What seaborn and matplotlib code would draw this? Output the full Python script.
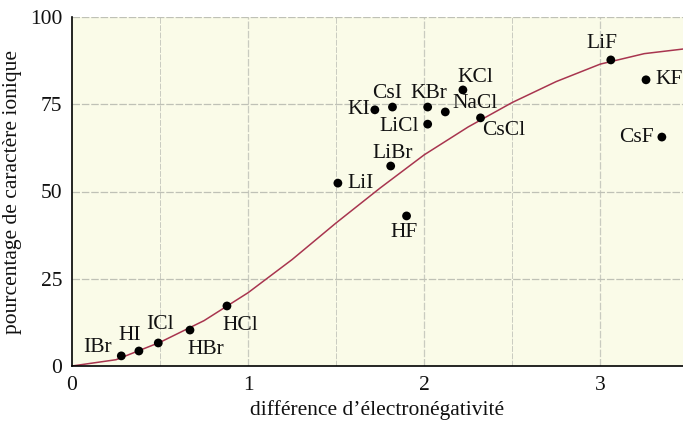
import numpy as np
import pandas as pd
import matplotlib
matplotlib.use("Agg")
import matplotlib.pyplot as plt
import seaborn as sns

# data
composes = ["IBr", "HI", "ICl", "HBr", "HCl", "LiI", "LiBr", "KI", "CsI",
            "KBr", "LiCl", "NaCl", "KCl", "CsCl", "HF", "LiF", "KF", "CsF"]
diff_en = [0.28, 0.38, 0.49, 0.67, 0.88, 1.51, 1.81, 1.72, 1.82,
           2.02, 2.02, 2.12, 2.22, 2.32, 1.90, 3.06, 3.26, 3.35]
pct_ionique = [2.9, 4.3, 6.6, 10.3, 17.2, 52.4, 57.3, 73.4, 74.2,
               74.2, 69.3, 72.8, 79.1, 71.1, 43.0, 87.7, 82.0, 65.6]

courbe_x = [0, 0.25, 0.5, 0.75, 1.0, 1.25, 1.5, 1.75, 2.0, 2.25,
            2.5, 2.75, 3.0, 3.25, 3.5]
courbe_y = [0, 1.8, 6.8, 13.0, 21.0, 30.5, 41.0, 51.0, 60.5, 68.5,
            75.5, 81.5, 86.5, 89.5, 91.0]

x_ticks = [0, 1, 2, 3]
y_ticks = [0, 25, 50, 75, 100]

# label placement: (dx, dy in points, ha)
offsets = {
    "IBr": (-6.5, 6, "right"), "HI": (-6.5, 11, "center"),
    "ICl": (1, 13, "center"), "HBr": (-1.5, -14, "left"),
    "HCl": (-3, -14, "left"), "LiI": (7, 0, "left"),
    "LiBr": (1.5, 9, "center"), "KI": (-3.5, 0, "right"),
    "CsI": (-3.5, 10, "center"), "KBr": (1, 10, "center"),
    "LiCl": (-6.5, -2, "right"), "NaCl": (5, 6, "left"),
    "KCl": (9, 9, "center"), "CsCl": (1.5, -9, "left"),
    "HF": (-1.5, -12, "center"), "LiF": (-6.5, 12, "center"),
    "KF": (7, 0, "left"), "CsF": (-6, 0, "right"),
}

df = pd.DataFrame({"compose": composes, "x": diff_en, "y": pct_ionique})
courbe = pd.DataFrame({"x": courbe_x, "y": courbe_y})

sns.set_style("white")
plt.rcParams["font.family"] = ["Liberation Serif", "DejaVu Serif"]

fig = plt.figure(figsize=(6.83, 4.24), dpi=100)
ax = fig.add_axes([72 / 683, 58 / 424, 1 - 72 / 683, 349 / 424])
ax.set_facecolor("#fafbe8")

# grid
for gx in [0.5, 1, 1.5, 2, 2.5, 3]:
    ax.axvline(gx, color="#c9cbc0", lw=0.9 if gx % 1 == 0 else 0.7,
               ls=(0, (6, 1.5)), zorder=0)
for gy in [25, 50, 75, 100]:
    ax.axhline(gy, color="#bfc1b6", lw=0.9, ls=(0, (6, 1.5)), zorder=0)

sns.lineplot(data=courbe, x="x", y="y", color="#a8354f", lw=1.1, ax=ax,
             zorder=2)
sns.scatterplot(data=df, x="x", y="y", color="black", s=40, edgecolor="none",
                ax=ax, zorder=3)

for _, r in df.iterrows():
    dx, dy, ha = offsets[r["compose"]]
    ax.annotate(r["compose"], (r["x"], r["y"]), xytext=(dx, dy),
                textcoords="offset points", ha=ha, va="center",
                fontsize=15.5, color="#111111")

ax.set_xlim(0, 3.47)
ax.set_ylim(0, 100)
ax.set_xticks(x_ticks)
ax.set_xticks([0.5, 1.5, 2.5], minor=True)
ax.set_yticks(y_ticks)
ax.tick_params(axis="both", direction="in", length=4, width=1,
               labelsize=15.5, colors="#111111", pad=7)
ax.tick_params(axis="x", which="minor", direction="in", length=4, width=1)
ax.set_xlabel("différence d\u2019électronégativité", fontsize=15.5,
              labelpad=4, color="#111111")
ax.set_ylabel("pourcentage de caractère ionique", fontsize=15.5,
              labelpad=6, color="#111111")

for side in ["top", "right"]:
    ax.spines[side].set_visible(False)
ax.spines["left"].set_color("black")
ax.spines["bottom"].set_color("black")
ax.spines["left"].set_linewidth(1.2)
ax.spines["bottom"].set_linewidth(1.2)

fig.savefig("out.png", dpi=100)
